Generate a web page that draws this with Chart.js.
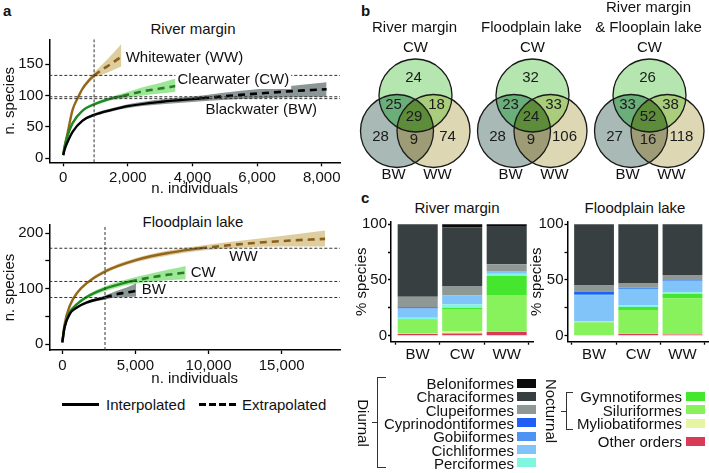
<!DOCTYPE html>
<html lang="en">
<head>
<meta charset="UTF-8">
<title>Species richness by water type</title>
<style>
  body { margin: 0; background: #fff; font-family: 'Liberation Sans', Arial, sans-serif; color: #111; }
  #fig { position: relative; width: 709px; height: 473px; overflow: hidden; }
  canvas { position: absolute; }
  .t { position: absolute; font-size: 15px; line-height: 1; white-space: nowrap; transform: translate(-50%, -50%); }
  .tag { position: absolute; font-size: 15px; font-weight: 700; line-height: 1; transform: translateY(-50%); }
  .leg { position: absolute; font-size: 15px; line-height: 1; white-space: nowrap; transform: translateY(-50%); text-align: right; }
  .sw { position: absolute; width: 19px; height: 9px; }
  .br { position: absolute; border: 1.3px solid #333; border-right: none; }
  .tick { position: absolute; border-top: 1.3px solid #333; height: 0; }
</style>
</head>
<body>
<div id="fig">
  <span class="tag" style="left:3px;top:10px">a</span>
  <span class="tag" style="left:361px;top:10px">b</span>
  <span class="tag" style="left:361px;top:197px">c</span>
  <span class="t" style="left:193px;top:28px">River margin</span>
  <span class="t" style="left:193px;top:221px">Floodplain lake</span>
  <span class="t" style="left:457px;top:207px">River margin</span>
  <span class="t" style="left:635px;top:207px">Floodplain lake</span>

  <canvas id="rmCurve" width="355" height="185" style="left:0;top:15px"></canvas>
  <canvas id="flCurve" width="355" height="180" style="left:0;top:210px"></canvas>
  <canvas id="venn" width="354" height="190" style="left:355px;top:0"></canvas>
  <canvas id="rmBar" width="195" height="170" style="left:345px;top:195px"></canvas>
  <canvas id="flBar" width="189" height="170" style="left:520px;top:195px"></canvas>

  <!-- interpolated / extrapolated key -->
  <div style="position:absolute;left:62px;top:402.5px;width:37px;height:3px;background:#000"></div>
  <span class="leg" style="left:106px;top:404px">Interpolated</span>
  <div style="position:absolute;left:199px;top:402.5px;width:37px;height:3px;background:repeating-linear-gradient(90deg,#000 0 7px,transparent 7px 10px)"></div>
  <span class="leg" style="left:242px;top:404px">Extrapolated</span>
</div>

<script src="https://cdn.jsdelivr.net/npm/chart.js"></script>
<script>
// ---- panel a: rarefaction curves (x = individuals, y = species) ----
// river margin
const rmX_WW  = [0, 50, 135, 290, 450, 600, 780, 956, 1200, 1500, 1800];
const rmY_WW  = [5, 20, 40, 77, 96, 111, 123, 132, 141, 151, 162];
const rmLo_WW = [5, 19, 38, 75, 93.5, 108.5, 119.5, 127.5, 133, 139.5, 146];
const rmHi_WW = [5, 21, 42, 79, 98.5, 113.5, 126.5, 136.5, 149, 165, 182];
const rmX_CW  = [0, 50, 135, 290, 600, 956, 1500, 1830, 2400, 3000, 3475];
const rmY_CW  = [5, 20, 36, 56, 76, 86, 95.5, 99, 106, 111, 115];
const rmLo_CW = [5, 19, 35, 54.5, 74, 83.5, 92.5, 95, 99.5, 103, 106];
const rmHi_CW = [5, 21, 37, 57.5, 78, 88.5, 98.5, 103, 112.5, 120, 127];
const rmX_BW  = [0, 50, 135, 290, 600, 956, 1500, 2000, 3050, 4300, 5500, 6800, 8150];
const rmY_BW  = [5, 15, 26, 42, 60, 69, 77, 83, 90, 95.5, 101, 106, 110];
const rmLo_BW = [5, 14, 25, 40.5, 58, 66.5, 74.5, 80, 86, 91, 94.5, 97, 98];
const rmHi_BW = [5, 16, 27, 43.5, 62, 71.5, 79.5, 86, 94, 100, 107.5, 114, 121];
const rmObs = { WW: 956, CW: 1830, BW: 4300 };   // observed sample sizes
const rmHLines = [132, 98, 95];
const rmVLine = 956;
const rmXTicks = [0, 2000, 4000, 6000, 8000];
const rmYTicks = [0, 50, 100, 150];

// floodplain lake
const flX_WW  = [0, 150, 527, 1000, 1668, 2920, 5090, 7370, 9420, 12000, 15000, 17970];
const flY_WW  = [3, 35, 70, 92, 110, 131, 152, 165, 173, 180, 186, 190];
const flLo_WW = [3, 34, 68, 89.5, 107, 127.5, 148, 160.5, 168.5, 174, 176, 176];
const flHi_WW = [3, 36, 72, 94.5, 113, 134.5, 156, 169.5, 177.5, 186, 195, 205];
const flX_CW  = [0, 150, 527, 1000, 1668, 2920, 4630, 6000, 7200, 8440];
const flY_CW  = [3, 30, 58, 72, 85, 100, 113, 120, 125, 129];
const flLo_CW = [3, 29, 56, 69.5, 82, 95.5, 107.5, 112, 115, 117];
const flHi_CW = [3, 31, 60, 74.5, 88, 104.5, 118.5, 127, 134, 141];
const flX_BW  = [0, 150, 527, 1000, 1668, 2920, 3700, 4400, 5050];
const flY_BW  = [3, 30, 55, 66, 75, 84, 90, 93, 96];
const flLo_BW = [3, 29, 53.5, 64, 72.5, 80.5, 84, 85, 85.5];
const flHi_BW = [3, 31, 56.5, 68, 77.5, 87.5, 96, 102, 110];
const flObs = { WW: 9420, CW: 4630, BW: 2920 };
const flHLines = [173, 113, 84];
const flVLine = 2920;
const flXTicks = [0, 5000, 10000, 15000];
const flYTicks = [0, 50, 100, 150, 200];
const flYLabels = [0, 100, 200];

// ---- panel b: Venn counts (CW only, CW&BW, CW&WW, all, BW only, BW&WW, WW only) ----
const vennRM  = [24, 25, 18, 29, 28, 9, 74];
const vennFL  = [32, 23, 33, 24, 28, 9, 106];
const vennAll = [26, 33, 38, 52, 27, 16, 118];
const vennTitles = [['River margin'], ['Floodplain lake'], ['River margin', '& Flooplain lake']];

// ---- panel c: % species per order (legend order) ----
const orders = ['Beloniformes', 'Characiformes', 'Clupeiformes', 'Cyprinodontiformes', 'Gobiiformes',
  'Cichliformes', 'Perciformes', 'Gymnotiformes', 'Siluriformes', 'Myliobatiformes', 'Other orders'];
const orderColors = ['#0b0b0b', '#373f40', '#8e9894', '#1f5ff5', '#4d94f2', '#80c4fa', '#80f5e0',
  '#44e62e', '#88f25c', '#e6f5a3', '#d93a55'];
const waterTypes = ['BW', 'CW', 'WW'];
const rmBW = [0, 65, 9.5, 1, 0, 8.5, 1.5, 0.5, 12.2, 0.3, 1.5];
const rmCW = [3, 52.4, 8.6, 0, 0, 8, 3, 1, 20, 2, 2];
const rmWW = [1.5, 34.5, 6, 0, 0, 2.4, 2, 17.1, 32.5, 0.4, 3.6];
const flBW = [0.5, 54.5, 5.5, 2, 1.5, 23, 1, 0, 12, 0, 0];
const flCW = [0, 52.7, 4.3, 0, 1, 14.8, 1.5, 2.7, 20.6, 0.6, 1.8];
const flWW = [0, 45.5, 4.5, 0.5, 0.5, 10, 1.3, 4.2, 32, 0.5, 1];
const pctTicks = [0, 25, 50, 75, 100];
const pctLabels = [0, 50, 100];

const FONT = "'Liberation Sans', Arial, sans-serif";
Chart.defaults.font.family = FONT;
Chart.defaults.font.size = 15;
Chart.defaults.color = '#111';
Chart.defaults.animation = false;
Chart.defaults.plugins.legend.display = false;
Chart.defaults.plugins.tooltip.enabled = false;

const styles = {
  WW: { line: '#94661c', dash: '#8a5f1c', band: 'rgba(200,172,95,0.6)' },
  CW: { line: '#1f8a1f', dash: '#2a7a2a', band: 'rgba(90,215,80,0.6)' },
  BW: { line: '#000000', dash: '#000000', band: 'rgba(90,105,105,0.7)' }
};

const pts = (xs, ys) => xs.map((x, i) => ({ x: x, y: ys[i] }));

const curveLabels = {
  id: 'curveLabels',
  afterDatasetsDraw(chart, args, opts) {
    const { ctx, scales: { x, y } } = chart;
    ctx.save();
    ctx.font = '15px ' + FONT;
    ctx.textBaseline = 'middle';
    opts.items.forEach(it => {
      const px = x.getPixelForValue(it.x), py = y.getPixelForValue(it.y);
      if (it.bg) {
        ctx.fillStyle = '#fff';
        ctx.fillRect(px - 2, py - 8, ctx.measureText(it.text).width + 4, 17);
      }
      ctx.fillStyle = '#111';
      ctx.fillText(it.text, px, py);
    });
    ctx.restore();
  }
};

function curveChart(id, c) {
  const ds = [];
  const ref = data => ({ data: data, showLine: true, pointRadius: 0, borderColor: '#333',
    borderWidth: 1, borderDash: [3, 2], tension: 0 });
  c.hLines.forEach(v => ds.push(ref([{ x: c.xMin, y: v }, { x: c.xMax, y: v }])));
  ds.push(ref([{ x: c.vLine, y: c.yMin }, { x: c.vLine, y: c.yMax }]));
  const line = { showLine: true, pointRadius: 0, cubicInterpolationMode: 'monotone' };
  c.series.forEach(s => {
    const all = pts(s.x, s.y);
    const k = s.x.indexOf(s.obs);
    ds.push(Object.assign({ data: all.slice(0, k + 1), borderColor: styles[s.name].line, borderWidth: 2.4 }, line));
    ds.push(Object.assign({ data: all.slice(k), borderColor: styles[s.name].dash, borderWidth: 2.6, borderDash: [7, 5] }, line));
  });
  c.series.forEach(s => {
    ds.push(Object.assign({ data: pts(s.x, s.lo), borderWidth: 0, borderColor: 'transparent' }, line));
    ds.push(Object.assign({ data: pts(s.x, s.hi), borderWidth: 0, borderColor: 'transparent',
      fill: '-1', backgroundColor: styles[s.name].band }, line));
  });
  const axisCommon = {
    grid: { display: true, drawOnChartArea: false, drawTicks: true, tickLength: 4, tickColor: '#000', tickWidth: 1.3 },
    border: { display: true, color: '#000', width: 1.5 }
  };
  new Chart(document.getElementById(id), {
    type: 'scatter',
    data: { datasets: ds },
    plugins: [curveLabels],
    options: {
      responsive: false,
      layout: { padding: { top: c.padTop, right: 15, left: 0, bottom: 0 } },
      plugins: { curveLabels: { items: c.labels } },
      scales: {
        x: Object.assign({
          type: 'linear', min: c.xMin, max: c.xMax,
          afterBuildTicks: s => { s.ticks = c.xTicks.map(v => ({ value: v })); },
          afterFit: s => { s.height = c.xH; },
          ticks: { padding: 3, maxRotation: 0, autoSkip: false, callback: v => v.toLocaleString('en-US') },
          title: { display: true, text: 'n. individuals', padding: { top: 0, bottom: 2 } }
        }, axisCommon),
        y: Object.assign({
          type: 'linear', min: c.yMin, max: c.yMax,
          afterBuildTicks: s => { s.ticks = c.yTicks.map(v => ({ value: v })); },
          afterFit: s => { s.width = 49.3; },
          ticks: { padding: 2, autoSkip: false, callback: v => (c.yLabels.includes(v) ? v : '') },
          title: { display: true, text: 'n. species', padding: { top: 1, bottom: 0 } }
        }, axisCommon)
      }
    }
  });
}

curveChart('rmCurve', {
  xMin: -430, xMax: 8565, yMin: -6.4, yMax: 189.5, padTop: 24.3, xH: 37.7,
  xTicks: rmXTicks, yTicks: rmYTicks, yLabels: rmYTicks,
  hLines: rmHLines, vLine: rmVLine,
  series: [
    { name: 'BW', x: rmX_BW, y: rmY_BW, lo: rmLo_BW, hi: rmHi_BW, obs: rmObs.BW },
    { name: 'CW', x: rmX_CW, y: rmY_CW, lo: rmLo_CW, hi: rmHi_CW, obs: rmObs.CW },
    { name: 'WW', x: rmX_WW, y: rmY_WW, lo: rmLo_WW, hi: rmHi_WW, obs: rmObs.WW }
  ],
  labels: [
    { text: 'Whitewater (WW)', x: 1933, y: 160 },
    { text: 'Clearwater (CW)', x: 3537, y: 124.7, bg: true },
    { text: 'Blackwater (BW)', x: 4400, y: 77 }
  ]
});

curveChart('flCurve', {
  xMin: -890, xMax: 18990, yMin: -10.8, yMax: 215, padTop: 15, xH: 40,
  xTicks: flXTicks, yTicks: flYTicks, yLabels: flYLabels,
  hLines: flHLines, vLine: flVLine,
  series: [
    { name: 'BW', x: flX_BW, y: flY_BW, lo: flLo_BW, hi: flHi_BW, obs: flObs.BW },
    { name: 'CW', x: flX_CW, y: flY_CW, lo: flLo_CW, hi: flHi_CW, obs: flObs.CW },
    { name: 'WW', x: flX_WW, y: flY_WW, lo: flLo_WW, hi: flHi_WW, obs: flObs.WW }
  ],
  labels: [
    { text: 'WW', x: 11420, y: 158 },
    { text: 'CW', x: 8780, y: 129 },
    { text: 'BW', x: 5430, y: 97.6 }
  ]
});

// ---- Venn diagrams ----
const vennFill = ['#b5e6b0', '#a9b9b6', '#ddd7b3'];          // CW, BW, WW
const vennPairFill = { '01': '#6aae7a', '02': '#a9cd7b', '12': '#9e9c76' };
const vennTripleFill = '#5d8c3b';
const vennOffsets = [[0, 0], [-18.5, 35.5], [18, 35.5]];
const vennTextOffsets = [[-2, -17.5], [-22, 9.5], [21, 9.5], [-1.5, 21.5], [-35, 41.5], [-1.5, 44.5], [32, 41.5]];

const vennPlugin = {
  id: 'venn',
  afterDraw(chart) {
    const { ctx, scales: { x, y } } = chart;
    const r = x.getPixelForValue(36.5) - x.getPixelForValue(0);
    [vennRM, vennFL, vennAll].forEach((counts, i) => {
      const cx = 60.5 + i * 117, cy = 95.5;
      const circ = vennOffsets.map(o => [x.getPixelForValue(cx + o[0]), y.getPixelForValue(cy + o[1])]);
      const path = c => { ctx.beginPath(); ctx.arc(c[0], c[1], r, 0, Math.PI * 2); };
      const clipFill = (ids, color) => {
        ctx.save();
        ids.forEach(k => { path(circ[k]); ctx.clip(); });
        ctx.fillStyle = color;
        ctx.fillRect(0, 0, chart.width, chart.height);
        ctx.restore();
      };
      circ.forEach((c, k) => { path(c); ctx.fillStyle = vennFill[k]; ctx.fill(); });
      clipFill([0, 1], vennPairFill['01']);
      clipFill([0, 2], vennPairFill['02']);
      clipFill([1, 2], vennPairFill['12']);
      clipFill([0, 1, 2], vennTripleFill);
      ctx.save();
      ctx.strokeStyle = '#1a1a1a';
      ctx.lineWidth = 1.3;
      circ.forEach(c => { path(c); ctx.stroke(); });
      ctx.fillStyle = '#1a1a1a';
      ctx.font = '15px ' + FONT;
      ctx.textAlign = 'center';
      ctx.textBaseline = 'middle';
      counts.forEach((n, k) => {
        const o = vennTextOffsets[k];
        ctx.fillText(String(n), x.getPixelForValue(cx + o[0]), y.getPixelForValue(cy + o[1]));
      });
      ctx.fillStyle = '#111';
      const tl = vennTitles[i];
      tl.forEach((t, j) => ctx.fillText(t, x.getPixelForValue(cx - 1), y.getPixelForValue(28 - (tl.length - 1 - j) * 20)));
      ctx.fillText('CW', x.getPixelForValue(cx), y.getPixelForValue(48));
      ctx.fillText('BW', x.getPixelForValue(cx - 22), y.getPixelForValue(175));
      ctx.fillText('WW', x.getPixelForValue(cx + 22), y.getPixelForValue(175));
      ctx.restore();
    });
  }
};

new Chart(document.getElementById('venn'), {
  type: 'scatter',
  data: { datasets: [] },
  plugins: [vennPlugin],
  options: {
    responsive: false,
    layout: { padding: 0 },
    scales: {
      x: { type: 'linear', min: 0, max: 354, display: false },
      y: { type: 'linear', min: 0, max: 190, reverse: true, display: false }
    }
  }
});

// ---- stacked bars ----
function barChart(id, rows, yW, padRight) {
  const datasets = orders.map((name, k) => ({
    label: name,
    data: rows.map((r, j) => ({ x: j + 1, y: r[k] })),
    backgroundColor: orderColors[k],
    borderWidth: 0,
    barPercentage: 0.9,
    categoryPercentage: 1
  })).reverse();
  const axisCommon = {
    grid: { display: true, drawOnChartArea: false, drawTicks: true, tickLength: 3, tickColor: '#000', tickWidth: 1.3 },
    border: { display: true, color: '#000', width: 1.5 }
  };
  new Chart(document.getElementById(id), {
    type: 'bar',
    data: { datasets: datasets },
    options: {
      responsive: false,
      layout: { padding: { top: 26.7, right: padRight, left: 0, bottom: 0 } },
      scales: {
        x: Object.assign({
          type: 'linear', min: 0.4, max: 3.6, stacked: true, offset: false,
          afterBuildTicks: s => { s.ticks = waterTypes.map((w, j) => ({ value: j + 1 })); },
          afterFit: s => { s.height = 23.3; },
          ticks: { padding: 1, autoSkip: false, maxRotation: 0, callback: v => waterTypes[v - 1] || '' }
        }, axisCommon),
        y: Object.assign({
          type: 'linear', min: -5.4, max: 102.3, stacked: true,
          afterBuildTicks: s => { s.ticks = pctTicks.map(v => ({ value: v })); },
          afterFit: s => { s.width = yW; },
          ticks: { padding: 1, autoSkip: false, callback: v => (pctLabels.includes(v) ? v : '') },
          title: { display: true, text: '% species', padding: { top: 8, bottom: 0 } }
        }, axisCommon)
      }
    }
  });
}
barChart('rmBar', [rmBW, rmCW, rmWW], 46, 6.6);
barChart('flBar', [flBW, flCW, flWW], 47.5, 0);

// ---- order legend ----
const fig = document.getElementById('fig');
function legendItem(name, color, textRight, swLeft, y) {
  const s = document.createElement('span');
  s.className = 'leg';
  s.textContent = name;
  s.style.right = (709 - textRight) + 'px';
  s.style.top = y + 'px';
  fig.appendChild(s);
  const b = document.createElement('div');
  b.className = 'sw';
  b.style.left = swLeft + 'px';
  b.style.top = (y - 4.5) + 'px';
  b.style.background = color;
  fig.appendChild(b);
}
orders.forEach((name, k) => {
  if (k < 7) legendItem(name, orderColors[k], 514, 517, 383 + k * 13.33);
  else if (k < 10) legendItem(name, orderColors[k], 682, 686, 396 + (k - 7) * 13.5);
  else legendItem(name, orderColors[k], 682, 686, 441);
});
function bracket(x, y0, y1, w, label, lx) {
  const d = document.createElement('div');
  d.className = 'br';
  Object.assign(d.style, { left: x + 'px', top: y0 + 'px', width: w + 'px', height: (y1 - y0) + 'px' });
  fig.appendChild(d);
  const t = document.createElement('div');
  t.className = 'tick';
  const ym = (y0 + y1) / 2;
  Object.assign(t.style, { left: (x - 5) + 'px', top: (ym + 0.5) + 'px', width: '5px' });
  fig.appendChild(t);
  const l = document.createElement('span');
  l.className = 't';
  l.textContent = label;
  Object.assign(l.style, { left: lx + 'px', top: (ym + 1) + 'px', transform: 'translate(-50%,-50%) rotate(90deg)' });
  fig.appendChild(l);
}
bracket(377, 377, 466, 8, 'Diurnal', 363);
bracket(566, 392, 428, 6, 'Nocturnal', 551);
</script>
</body>
</html>
